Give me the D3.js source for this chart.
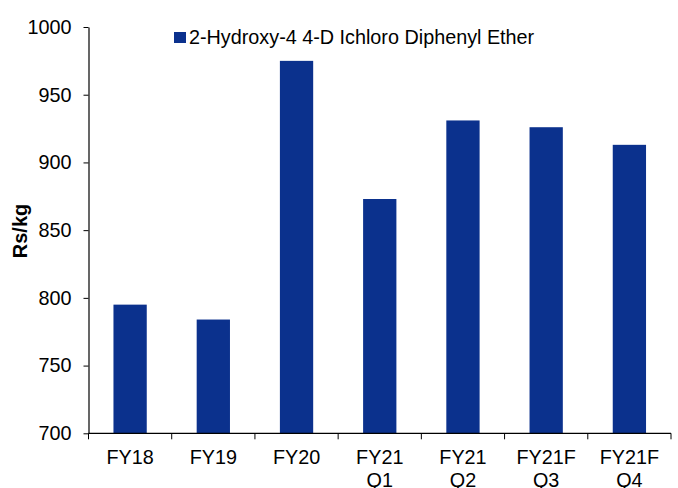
<!DOCTYPE html>
<html><head><meta charset="utf-8">
<script src="https://cdn.jsdelivr.net/npm/d3@7"></script>
<style>body{margin:0;background:#fff}svg{display:block}text{font-family:"Liberation Sans",Arial,sans-serif;fill:#000}</style>
</head><body>
<script>
const categories = [["FY18"],["FY19"],["FY20"],["FY21","Q1"],["FY21","Q2"],["FY21F","Q3"],["FY21F","Q4"]];
const values = [795, 784, 975, 873, 931, 926, 913];
const yTicks = [700, 750, 800, 850, 900, 950, 1000];
const seriesName = "2-Hydroxy-4 4-D Ichloro Diphenyl Ether";
const yLabel = "Rs/kg";

const W = 678, H = 488;
const m = {l: 88.5, r: 7, t: 27, b: 54.7};
const svg = d3.select("body").append("svg").attr("width", W).attr("height", H);
const ids = categories.map((c,i)=>i);
const x = d3.scaleBand().domain(ids).range([m.l, W - m.r]).paddingInner(0.6).paddingOuter(0.3);
const y = d3.scaleLinear().domain([700, 1000]).range([H - m.b, m.t]);
const color = "#0B318D";
const fs = 19.8;

svg.append("g").selectAll("rect").data(values).join("rect")
  .attr("x", (d,i)=>x(i)).attr("width", x.bandwidth())
  .attr("y", d=>y(d)).attr("height", d=>y(700)-y(d))
  .attr("fill", color);

// y axis
const ya = svg.append("g").attr("transform", `translate(${m.l},0)`)
  .call(d3.axisLeft(y).tickValues(yTicks).tickFormat(d3.format("d")).tickSize(5).tickPadding(12).tickSizeOuter(0));
ya.select(".domain").attr("stroke", "#000").attr("stroke-width", 1.2);
ya.selectAll("line").attr("stroke", "#000");
ya.selectAll("text").style("font-size", fs + "px").attr("fill", "#000");

// x axis
const x0 = m.l, x1 = W - m.r, yb = y(700);
const step = (x1 - x0) / categories.length;
const xa = svg.append("g");
xa.append("line").attr("x1", x0).attr("x2", x1).attr("y1", yb).attr("y2", yb).attr("stroke", "#000").attr("stroke-width", 1.2);
xa.selectAll("line.t").data(d3.range(categories.length + 1)).join("line").attr("class","t")
  .attr("x1", i=>x0 + i*step).attr("x2", i=>x0 + i*step).attr("y1", yb).attr("y2", yb + 6).attr("stroke", "#000");
const lab = xa.selectAll("text").data(categories).join("text")
  .attr("text-anchor", "middle").style("font-size", fs + "px")
  .attr("x", (d,i)=>x(i) + x.bandwidth()/2).attr("y", yb + 31);
lab.selectAll("tspan").data(d=>d).join("tspan")
  .attr("x", function(){ return d3.select(this.parentNode).attr("x"); })
  .attr("dy", (d,i)=> i ? 22.5 : 0).text(d=>d);

// y label
svg.append("text").attr("transform", `translate(27,${231}) rotate(-90)`)
  .attr("text-anchor", "middle").style("font-size", "20px").style("font-weight", "bold").text(yLabel);

// legend
svg.append("rect").attr("x", 174).attr("y", 32).attr("width", 12).attr("height", 11).attr("fill", color);
svg.append("text").attr("x", 189).attr("y", 44).style("font-size", fs + "px").text(seriesName);
</script>
</body></html>
